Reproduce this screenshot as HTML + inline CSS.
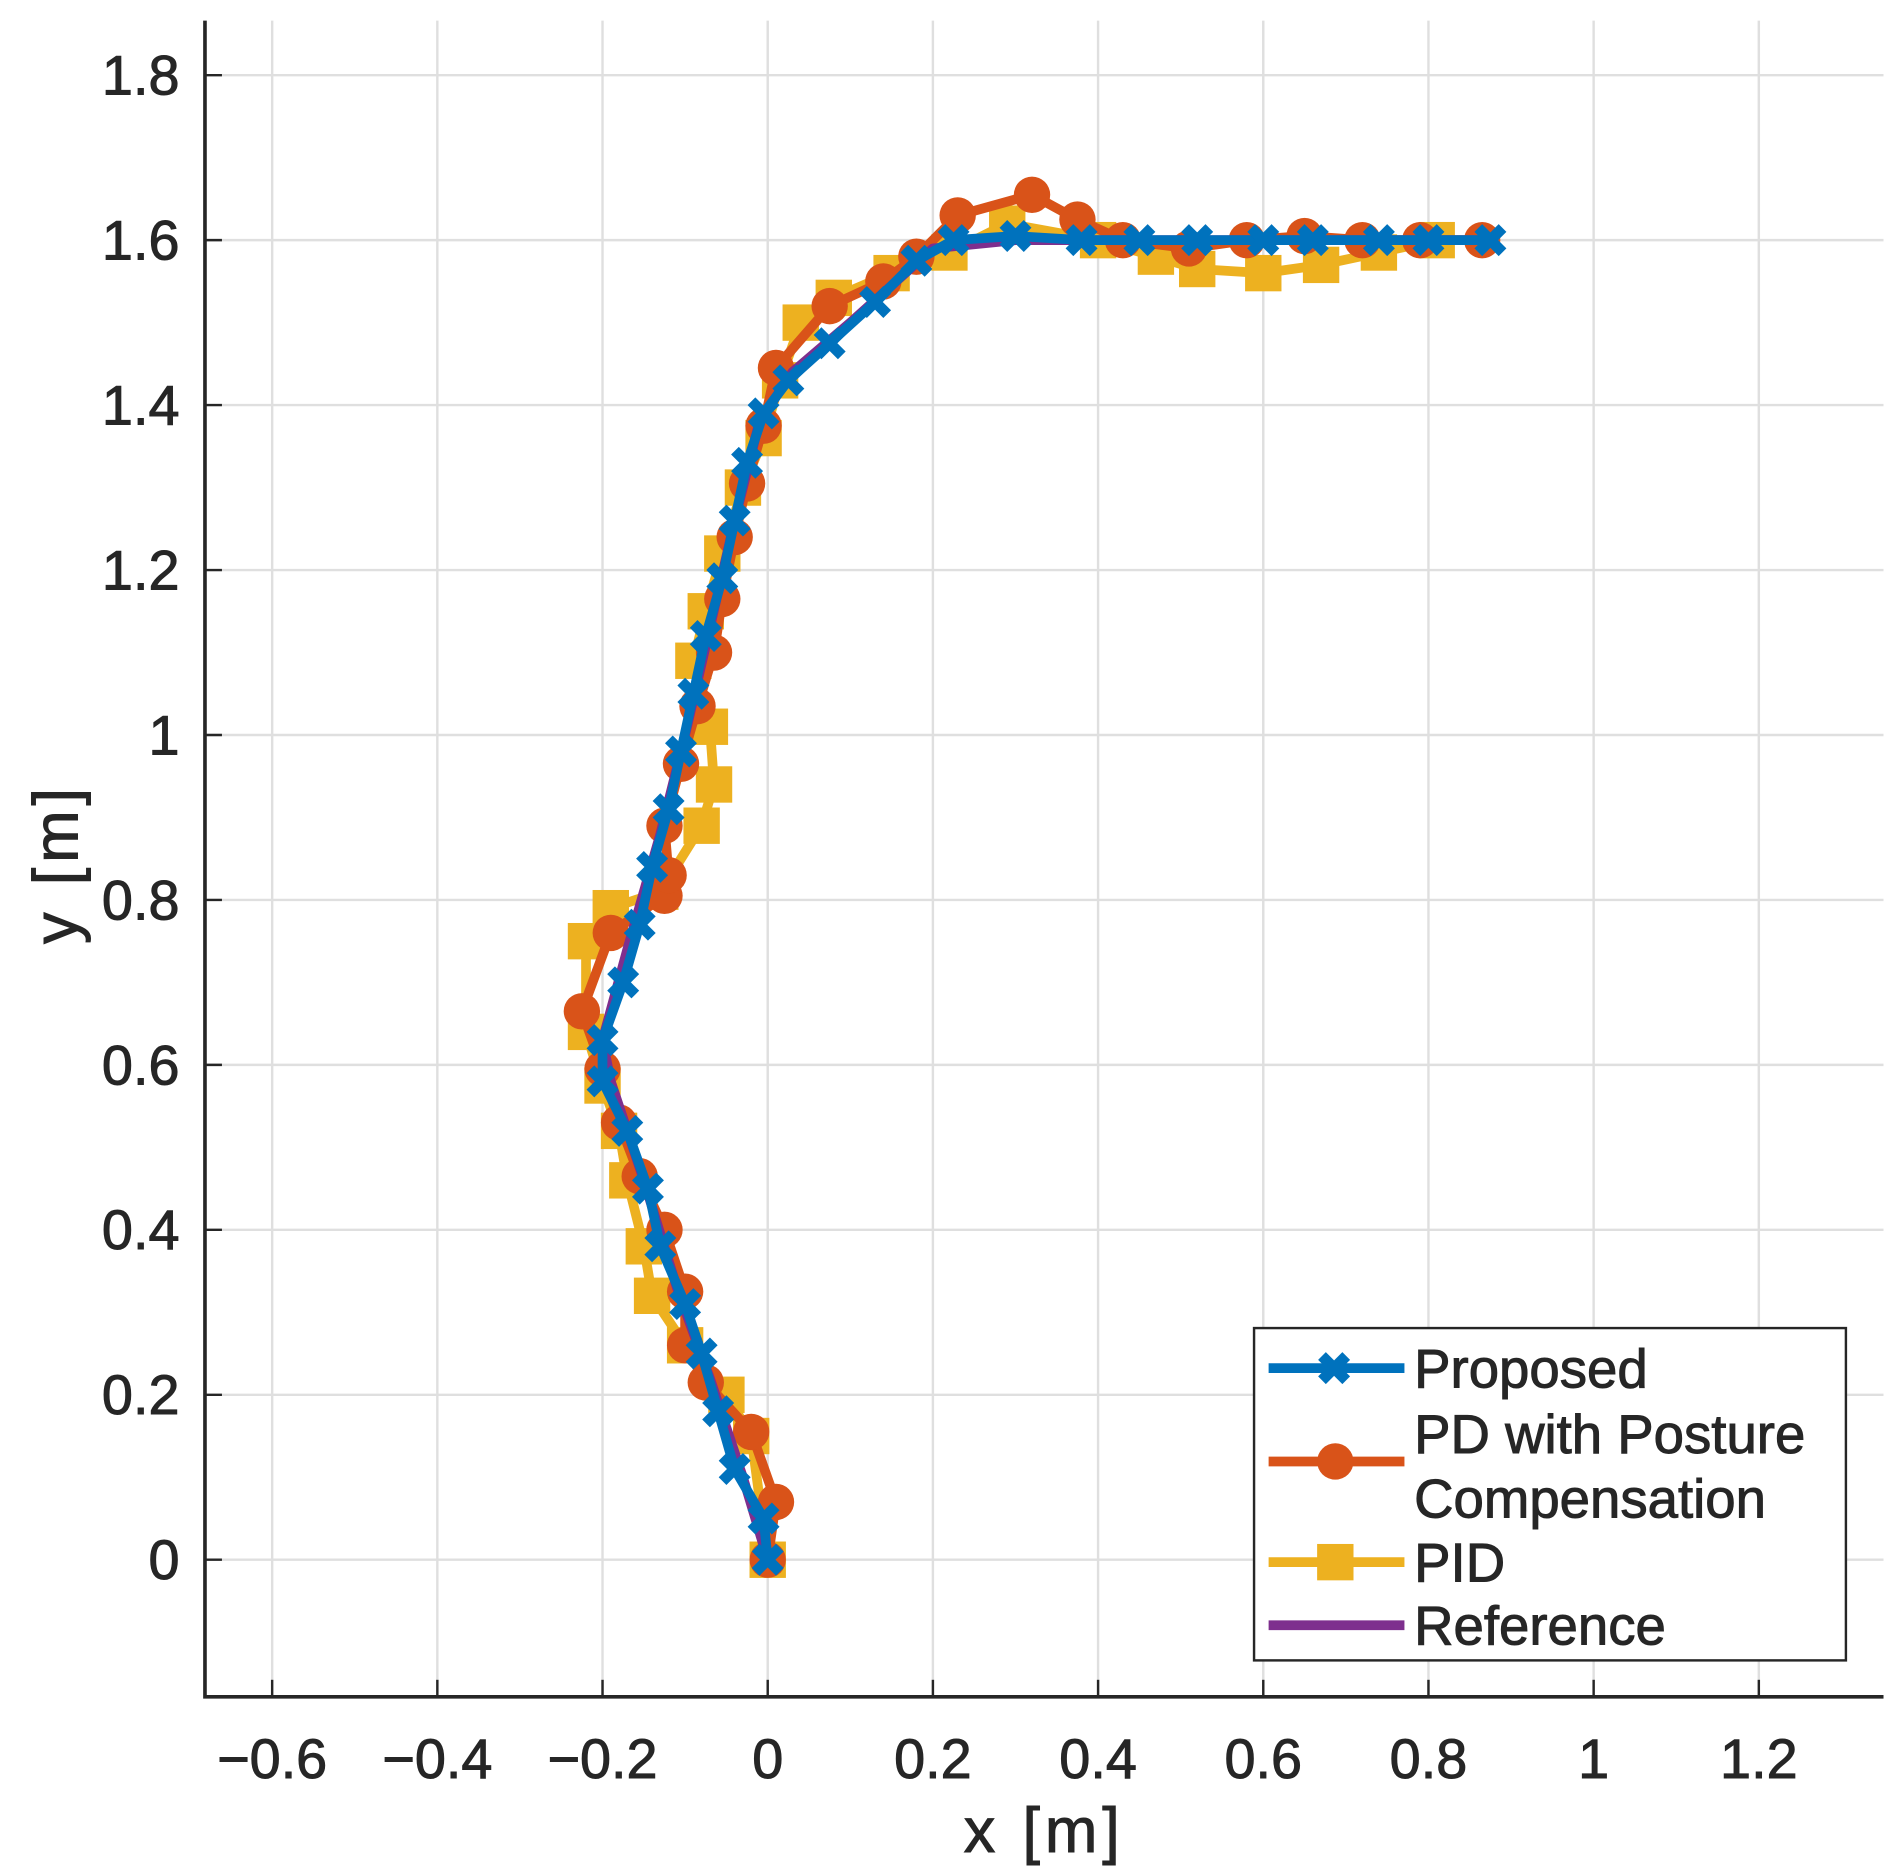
<!DOCTYPE html>
<html><head><meta charset="utf-8"><style>
html,body{margin:0;padding:0;background:#fff;}
svg{display:block;}
text{font-family:"Liberation Sans","IPAGothic",sans-serif;fill:#262626;stroke:#262626;stroke-width:0.8;}
</style></head><body>
<svg id="chart" width="1892" height="1869" viewBox="0 0 1560 1541" preserveAspectRatio="none" xmlns="http://www.w3.org/2000/svg">
<g id="grid"></g>
<g id="series"></g>
<g id="axes"></g>
<g>
<rect x="1034" y="1095" width="488" height="274" fill="#fff" stroke="#262626" stroke-width="2"/>
<g>
<line x1="1046" y1="1128" x2="1158" y2="1128" stroke="#0072BD" stroke-width="8"/>
<path d="M1090,1118 L1110,1138 M1110,1118 L1090,1138" stroke="#0072BD" stroke-width="9"/>
<text x="1166" y="1144" font-size="45">Proposed</text></g>
<g>
<line x1="1046" y1="1205" x2="1158" y2="1205" stroke="#D95319" stroke-width="8"/>
<circle cx="1101" cy="1205" r="15" fill="#D95319"/>
<text x="1166" y="1198" font-size="45">PD with Posture</text>
<text x="1166" y="1251" font-size="45">Compensation</text></g>
<g>
<line x1="1046" y1="1288" x2="1158" y2="1288" stroke="#EDB120" stroke-width="8"/>
<rect x="1086" y="1273" width="30" height="30" fill="#EDB120"/>
<text x="1166" y="1304" font-size="45">PID</text></g>
<g>
<line x1="1046" y1="1340" x2="1158" y2="1340" stroke="#7E2F8E" stroke-width="8"/>
<text x="1166" y="1356" font-size="45">Reference</text></g>
</g>
</svg>
<script>
const xTicks=[-0.6,-0.4,-0.2,0,0.2,0.4,0.6,0.8,1,1.2];
const xTickLabels=['−0.6','−0.4','−0.2','0','0.2','0.4','0.6','0.8','1','1.2'];
const yTicks=[0,0.2,0.4,0.6,0.8,1,1.2,1.4,1.6,1.8];
const yTickLabels=['0','0.2','0.4','0.6','0.8','1','1.2','1.4','1.6','1.8'];
const propX=[0,-0.005,-0.04,-0.06,-0.08,-0.1,-0.13,-0.145,-0.17,-0.2,-0.2,-0.175,-0.155,-0.14,-0.12,-0.105,-0.09,-0.075,-0.055,-0.04,-0.025,-0.005,0.025,0.075,0.13,0.18,0.225,0.3,0.38,0.45,0.52,0.6,0.66,0.74,0.8,0.875];
const propY=[0,0.05,0.11,0.18,0.25,0.31,0.38,0.45,0.52,0.58,0.63,0.7,0.77,0.84,0.91,0.98,1.05,1.12,1.19,1.26,1.33,1.39,1.43,1.475,1.525,1.575,1.6,1.605,1.6,1.6,1.6,1.6,1.6,1.6,1.6,1.6];
const pdX=[0,0.01,-0.02,-0.075,-0.1,-0.1,-0.125,-0.155,-0.18,-0.2,-0.225,-0.19,-0.125,-0.12,-0.125,-0.105,-0.085,-0.065,-0.055,-0.04,-0.025,-0.005,0.01,0.075,0.14,0.18,0.23,0.32,0.375,0.43,0.51,0.58,0.65,0.72,0.79,0.865];
const pdY=[0,0.07,0.155,0.215,0.26,0.325,0.4,0.465,0.53,0.595,0.665,0.76,0.805,0.83,0.89,0.965,1.035,1.1,1.165,1.24,1.305,1.375,1.445,1.52,1.55,1.58,1.63,1.655,1.625,1.6,1.59,1.6,1.605,1.6,1.6,1.6];
const pidX=[0,-0.02,-0.05,-0.1,-0.14,-0.15,-0.17,-0.18,-0.2,-0.22,-0.22,-0.19,-0.13,-0.08,-0.065,-0.07,-0.09,-0.075,-0.055,-0.03,-0.005,0.015,0.04,0.08,0.15,0.22,0.29,0.4,0.47,0.52,0.6,0.67,0.74,0.81];
const pidY=[0,0.15,0.2,0.26,0.32,0.38,0.46,0.52,0.575,0.64,0.75,0.79,0.81,0.89,0.94,1.01,1.09,1.15,1.22,1.3,1.36,1.43,1.5,1.53,1.56,1.585,1.62,1.6,1.58,1.565,1.56,1.57,1.585,1.6];
const refX=[0,-0.03,-0.07,-0.11,-0.15,-0.19,-0.2,-0.17,-0.13,-0.1,-0.07,-0.04,-0.01,0.03,0.1,0.2,0.3,0.5,0.7,0.875];
const refY=[0,0.1,0.22,0.33,0.46,0.58,0.63,0.74,0.88,1.0,1.13,1.26,1.38,1.44,1.5,1.59,1.6,1.6,1.6,1.6];
const L=169,R=1553,T=17,B=1399;
const sx=v=>633+v*681, sy=v=>1286-v*680;
const NS='http://www.w3.org/2000/svg';
function mk(parent,tag,attrs){const e=document.createElementNS(NS,tag);for(const k in attrs)e.setAttribute(k,attrs[k]);parent.appendChild(e);return e;}
const grid=document.getElementById('grid'),axes=document.getElementById('axes'),ser=document.getElementById('series');
xTicks.forEach((v,i)=>{
 const g=mk(grid,'line',{x1:sx(v),x2:sx(v),y1:T,y2:B,stroke:'#dfdfdf','stroke-width':2});
 
 
 const t=mk(axes,'line',{x1:sx(v),x2:sx(v),y1:B,y2:B-14,stroke:'#262626','stroke-width':2});
 
 
 const l=mk(axes,'text',{x:sx(v),y:1466,'font-size':46,'text-anchor':'middle'});l.textContent=xTickLabels[i];
 
 
});
yTicks.forEach((v,i)=>{
 const g=mk(grid,'line',{x1:L,x2:R,y1:sy(v),y2:sy(v),stroke:'#dfdfdf','stroke-width':2});
 
 
 const t=mk(axes,'line',{x1:L,x2:L+14,y1:sy(v),y2:sy(v),stroke:'#262626','stroke-width':2});
 
 
 const l=mk(axes,'text',{x:148,y:sy(v)+16,'font-size':46,'text-anchor':'end'});l.textContent=yTickLabels[i];
 
 
});
const ax1=mk(axes,'path',{d:`M${L},${T} L${L},${B} L${R},${B}`,fill:'none',stroke:'#262626','stroke-width':3});


const xl=mk(axes,'text',{x:861,y:1527,'font-size':52,'text-anchor':'middle','letter-spacing':4});xl.textContent='x [m]';


const yl=mk(axes,'text',{x:0,y:0,'font-size':52,'text-anchor':'middle','letter-spacing':4,transform:'translate(64,712) rotate(-90)'});yl.textContent='y [m]';


function pts(X,Y){return X.map((v,i)=>sx(v)+','+sy(Y[i])).join(' ');}
function line(X,Y,col,name){const p=mk(ser,'polyline',{points:pts(X,Y),fill:'none',stroke:col,'stroke-width':8,'stroke-linejoin':'round'});
 
 }
line(pidX,pidY,'#EDB120','pid-line');
pidX.forEach((v,i)=>{const m=mk(ser,'rect',{x:sx(v)-15,y:sy(pidY[i])-15,width:30,height:30,fill:'#EDB120'});
 
 });
line(pdX,pdY,'#D95319','pd-line');
pdX.forEach((v,i)=>{const m=mk(ser,'circle',{cx:sx(v),cy:sy(pdY[i]),r:15,fill:'#D95319'});
 
 });
line(refX,refY,'#7E2F8E','reference-line');
line(propX,propY,'#0072BD','proposed-line');
propX.forEach((v,i)=>{const cx=sx(v),cy=sy(propY[i]);
 const m=mk(ser,'path',{d:`M${cx-10},${cy-10} L${cx+10},${cy+10} M${cx+10},${cy-10} L${cx-10},${cy+10}`,stroke:'#0072BD','stroke-width':9});
 
 });
</script>
</body></html>
